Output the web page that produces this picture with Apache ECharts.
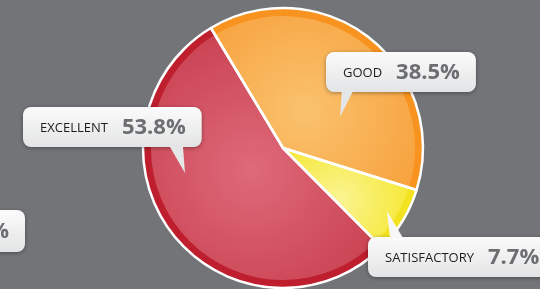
<!DOCTYPE html>
<html>
<head>
<meta charset="utf-8">
<script src="https://cdn.jsdelivr.net/npm/echarts@6/dist/echarts.min.js"></script>
<style>
  html, body { margin: 0; padding: 0; background: #737478; }
  #chart { width: 540px; height: 289px; }
</style>
</head>
<body>
<div id="chart"></div>
<script>
  // data
  var categories = ['GOOD', 'SATISFACTORY', 'EXCELLENT']
  var values = [5, 1, 7]

  // styles per slice
  var rimColors = ['#f7931e', '#f3e21f', '#be1e2d']
  var lightColors = ['#fac26e', '#faf491', '#de6a7a']
  var darkColors = ['#f7a23e', '#f6e838', '#c73c4c']
  var labelPos = [[326, 52], [368, 237], [23, 107]] // top-left of each bubble
  var center = [283, 148]

  var chart = echarts.init(document.getElementById('chart'))

  var bubbleBg = {
    type: 'linear', x: 0, y: 0, x2: 0, y2: 1,
    colorStops: [{ offset: 0, color: '#fbfbfb' }, { offset: 1, color: '#e3e4e5' }]
  }

  function sliceData (fill) {
    return categories.map(function (name, i) {
      return { name: name, value: values[i], itemStyle: fill(i) }
    })
  }

  var option = {
    backgroundColor: '#737478',
    animation: false,
    series: [
      { // dark rim
        type: 'pie',
        center: center,
        radius: [0, 140],
        startAngle: 121,
        silent: true,
        label: { show: false },
        labelLine: { show: false },
        data: sliceData(function (i) { return { color: rimColors[i] } })
      },
      { // glossy inner fill + labels
        type: 'pie',
        center: center,
        radius: [0, 132],
        startAngle: 121,
        silent: true,
        percentPrecision: 1,
        avoidLabelOverlap: false,
        labelLine: { show: false },
        label: {
          show: true,
          position: 'outside',
          formatter: function (p) {
            return '{n|' + p.name + '}{p|' + p.percent.toFixed(1) + '%}'
          },
          backgroundColor: bubbleBg,
          borderRadius: 8,
          padding: [10, 16, 8, 17],
          shadowColor: 'rgba(0,0,0,0.35)',
          shadowBlur: 4,
          shadowOffsetY: 1,
          rich: {
            n: { fontFamily: 'Open Sans', fontSize: 13, color: '#1f1c1d', padding: [0, 14, 0, 0] },
            p: { fontFamily: 'Open Sans', fontSize: 22, fontWeight: 'bold', color: '#6d6e71' }
          }
        },
        labelLayout: function (params) {
          var pos = labelPos[params.dataIndex]
          return { x: pos[0], y: pos[1], align: 'left', verticalAlign: 'top' }
        },
        data: sliceData(function (i) {
          return {
            color: {
              type: 'radial', x: 0.45, y: 0.55, r: 0.75,
              colorStops: [{ offset: 0, color: lightColors[i] }, { offset: 1, color: darkColors[i] }]
            }
          }
        })
      },
      { // white outline and separators
        type: 'pie',
        center: center,
        radius: [0, 140],
        startAngle: 121,
        silent: true,
        label: { show: false },
        labelLine: { show: false },
        data: sliceData(function () {
          return { color: 'rgba(0,0,0,0)', borderColor: '#ffffff', borderWidth: 2.5 }
        })
      }
    ],
    graphic: [
      // bubble pointers
      { type: 'polygon', z: 100, shape: { points: [[342, 89], [354, 89], [340, 117]] }, style: { fill: '#e5e6e7' } },
      { type: 'polygon', z: 100, shape: { points: [[170, 147], [183, 147], [185, 173]] }, style: { fill: '#e5e6e7' } },
      { type: 'polygon', z: 100, shape: { points: [[390, 238], [403, 238], [387, 211]] }, style: { fill: '#f7f7f7' } },
      // partial bubble cut off at the left edge
      {
        type: 'group',
        z: 100,
        children: [
          {
            type: 'rect',
            shape: { x: -120, y: 210, width: 145, height: 42, r: 8 },
            style: { fill: bubbleBg, shadowColor: 'rgba(0,0,0,0.35)', shadowBlur: 4, shadowOffsetY: 1 }
          },
          {
            type: 'text',
            style: {
              x: 9, y: 232, text: '%', align: 'right', verticalAlign: 'middle',
              fontFamily: 'Open Sans', fontSize: 22, fontWeight: 'bold', fill: '#6d6e71'
            }
          }
        ]
      }
    ]
  }

  chart.setOption(option)
</script>
</body>
</html>
